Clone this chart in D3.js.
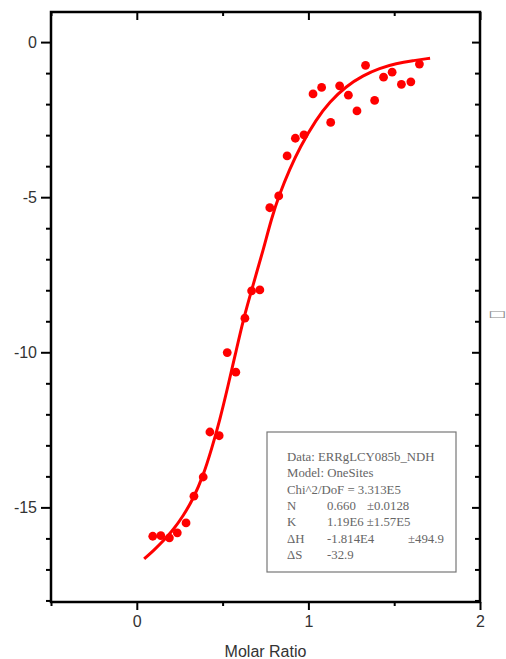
<!DOCTYPE html>
<html>
<head>
<meta charset="utf-8">
<script src="https://cdn.jsdelivr.net/npm/d3@7"></script>
<style>
  body { margin: 0; background: #fff; }
  svg { display: block; }
</style>
</head>
<body>
<div id="chart"></div>
<script>
// measured points (molar ratio vs kcal/mol)
const ratioX = [0.093, 0.140, 0.190, 0.236, 0.287, 0.333, 0.387, 0.426, 0.480, 0.527,
                0.577, 0.630, 0.669, 0.717, 0.775, 0.827, 0.876, 0.924, 0.974, 1.027,
                1.077, 1.130, 1.182, 1.233, 1.283, 1.333, 1.386, 1.438, 1.488, 1.542,
                1.597, 1.647];
const heatY  = [-15.93, -15.91, -15.98, -15.82, -15.50, -14.64, -14.02, -12.57, -12.69, -10.01,
                -10.64, -8.90, -8.02, -7.99, -5.34, -4.96, -3.67, -3.10, -2.99, -1.67,
                -1.46, -2.59, -1.41, -1.71, -2.22, -0.75, -1.88, -1.13, -0.97, -1.36,
                -1.28, -0.71];

// fitted curve
const fitX = [0.043, 0.10, 0.155, 0.213, 0.271, 0.329, 0.387, 0.436, 0.484, 0.53,
              0.575, 0.620, 0.678, 0.736, 0.785, 0.833, 0.891, 0.949, 1.047, 1.124,
              1.221, 1.317, 1.415, 1.512, 1.608, 1.709];
const fitY = [-16.66, -16.38, -16.08, -15.72, -15.27, -14.72, -13.98, -13.12, -12.18, -11.12,
              -10.05, -8.95, -7.82, -6.72, -5.68, -4.88, -4.10, -3.40, -2.48, -1.92,
              -1.42, -1.08, -0.84, -0.69, -0.60, -0.52];

const xMajor = [0, 1, 2];
const xMinor = [-0.5, 0.5, 1.5];
const yMajor = [-15, -10, -5, 0];
const yMinor = [-18, -17, -16, -14, -13, -12, -11, -9, -8, -7, -6, -4, -3, -2, -1];

const fitLines = [
  ['Data: ERRgLCY085b_NDH'],
  ['Model: OneSites'],
  ['Chi^2/DoF = 3.313E5'],
  ['N', '0.660', '\u00b10.0128'],
  ['K', '1.19E6 \u00b11.57E5'],
  ['\u0394H', '-1.814E4', '', '\u00b1494.9'],
  ['\u0394S', '-32.9']
];

const width = 506, height = 659;
const pLeft = 51, pRight = 480, pTop = 12, pBottom = 602;

const svg = d3.select('#chart').append('svg')
    .attr('width', width)
    .attr('height', height);

const x = d3.scaleLinear().domain([-0.5, 2]).range([pLeft, pRight]);
const y = d3.scaleLinear().domain([-18.05, 0.97]).range([pBottom, pTop]);

const tickFont = '"Liberation Sans", Arial, sans-serif';
const plain = d => String(d);   // hyphen minus, like the original

function styleAxis(g) {
  g.select('.domain').remove();
  g.selectAll('line').attr('stroke', '#000').attr('stroke-width', 2);
  g.selectAll('text')
    .attr('fill', '#333')
    .style('font-family', tickFont)
    .style('font-size', '16px');
}

// bottom
svg.append('g').attr('transform', `translate(0,${pBottom})`)
  .call(d3.axisBottom(x).tickValues(xMajor).tickFormat(plain).tickSize(8).tickPadding(6))
  .call(styleAxis);
svg.append('g').attr('transform', `translate(0,${pBottom})`)
  .call(d3.axisBottom(x).tickValues(xMinor).tickFormat('').tickSize(4))
  .call(styleAxis);

// top (inward)
svg.append('g').attr('transform', `translate(0,${pTop})`)
  .call(d3.axisTop(x).tickValues(xMajor).tickFormat('').tickSize(-8))
  .call(styleAxis);
svg.append('g').attr('transform', `translate(0,${pTop})`)
  .call(d3.axisTop(x).tickValues(xMinor).tickFormat('').tickSize(-4))
  .call(styleAxis);

// left
svg.append('g').attr('transform', `translate(${pLeft},0)`)
  .call(d3.axisLeft(y).tickValues(yMajor).tickFormat(plain).tickSize(10).tickPadding(4))
  .call(styleAxis);
svg.append('g').attr('transform', `translate(${pLeft},0)`)
  .call(d3.axisLeft(y).tickValues(yMinor).tickFormat('').tickSize(5))
  .call(styleAxis);

// right (inward)
svg.append('g').attr('transform', `translate(${pRight},0)`)
  .call(d3.axisRight(y).tickValues(yMajor).tickFormat('').tickSize(-8))
  .call(styleAxis);
svg.append('g').attr('transform', `translate(${pRight},0)`)
  .call(d3.axisRight(y).tickValues(yMinor).tickFormat('').tickSize(-5))
  .call(styleAxis);

// frame
svg.append('rect')
    .attr('x', pLeft).attr('y', pTop)
    .attr('width', pRight - pLeft).attr('height', pBottom - pTop)
    .attr('fill', 'none')
    .attr('stroke', '#000')
    .attr('stroke-width', 2.5);

// fit curve
const fitData = fitX.map((d, i) => ({ x: d, y: fitY[i] }));
svg.append('path')
    .datum(fitData)
    .attr('fill', 'none')
    .attr('stroke', '#ff0000')
    .attr('stroke-width', 3)
    .attr('d', d3.line().x(d => x(d.x)).y(d => y(d.y)).curve(d3.curveBasis));

// points
svg.append('g').selectAll('circle')
  .data(ratioX.map((d, i) => ({ x: d, y: heatY[i] })))
  .join('circle')
    .attr('cx', d => x(d.x))
    .attr('cy', d => y(d.y))
    .attr('r', 4.4)
    .attr('fill', '#ff0000');

// fit results box
const box = svg.append('g');
box.append('rect')
    .attr('x', 267).attr('y', 432)
    .attr('width', 189).attr('height', 140)
    .attr('fill', '#fff')
    .attr('stroke', '#777')
    .attr('stroke-width', 1.2);

const colX = [287, 327, 367, 408];
fitLines.forEach((row, i) => {
  row.forEach((t, j) => {
    if (!t) return;
    box.append('text')
      .attr('x', colX[j])
      .attr('y', 461 + i * 16.3)
      .attr('fill', '#666')
      .style('font-family', '"Liberation Serif", "Times New Roman", serif')
      .style('font-size', '12.8px')
      .text(t);
  });
});

// axis titles
svg.append('text')
    .attr('x', (pLeft + pRight) / 2)
    .attr('y', 657)
    .attr('text-anchor', 'middle')
    .attr('fill', '#333')
    .style('font-family', tickFont)
    .style('font-size', '16px')
    .text('Molar Ratio');

// y title: shows only as a missing-glyph box on its side in the original
svg.append('text')
    .attr('transform', 'translate(497,314) scale(1.5,0.7)')
    .attr('text-anchor', 'middle')
    .attr('dominant-baseline', 'central')
    .attr('fill', '#888')
    .style('font-family', '"DejaVu Sans", sans-serif')
    .style('font-size', '13px')
    .text('\u25a1');
</script>
</body>
</html>
